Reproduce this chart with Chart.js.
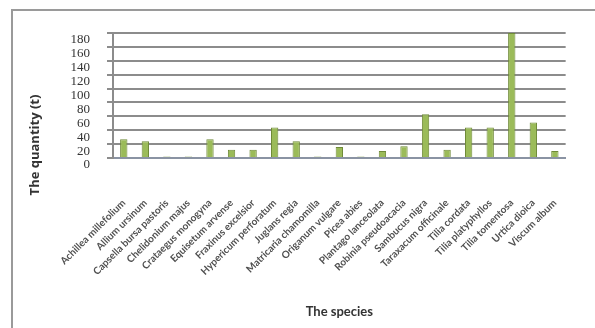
<!DOCTYPE html>
<html>
<head>
<meta charset="utf-8">
<script src="https://cdn.jsdelivr.net/npm/chart.js@4"></script>
<style>
  html, body { margin: 0; padding: 0; background: #ffffff; }
  #wrap { position: relative; width: 595px; height: 328px; }
</style>
</head>
<body>
<div id="wrap"><canvas id="chart" width="595" height="328"></canvas></div>
<script>
// Plant species and harvested quantity (t)
const species = [
  "Achillea millefolium", "Allium ursinum", "Capsella bursa pastoris",
  "Chelidonium majus", "Crataegus monogyna", "Equisetum arvense",
  "Fraxinus excelsior", "Hypericum perforatum", "Juglans regia",
  "Matricaria chamomilla", "Origanum vulgare", "Picea abies",
  "Plantago lanceolata", "Robinia pseudoacacia", "Sambucus nigra",
  "Taraxacum officinale", "Tilia cordata", "Tilia platyphyllos",
  "Tilia tomentosa", "Urtica dioica", "Viscum album"
];
const quantity = [
  27, 24, 2, 2, 27, 12,
  12, 44, 24, 2, 16, 2,
  10, 17, 63, 12, 44, 44,
  180, 51, 10
];
const yTicks = [0, 20, 40, 60, 80, 100, 120, 140, 160, 180];
const yTitle = 'The quantity (t)';

// Outer frame lines (top and left edges of the chart box) and the value-axis title
const framePlugin = {
  id: 'frame',
  beforeDraw(chart) {
    const ctx = chart.ctx;
    ctx.save();
    ctx.strokeStyle = '#9a9a9a';
    ctx.lineWidth = 2;
    ctx.beginPath();
    ctx.moveTo(12, 328);
    ctx.lineTo(12, 10);
    ctx.lineTo(595, 10);
    ctx.stroke();
    ctx.restore();
  },
  afterDraw(chart) {
    const ctx = chart.ctx;
    ctx.save();
    ctx.translate(35, 145);
    ctx.rotate(-Math.PI / 2);
    ctx.fillStyle = '#333333';
    ctx.font = 'bold 13px "Open Sans"';
    ctx.textAlign = 'center';
    ctx.textBaseline = 'middle';
    ctx.fillText(yTitle, 0, 0);
    ctx.restore();
  }
};

new Chart(document.getElementById('chart'), {
  type: 'bar',
  data: {
    labels: species,
    datasets: [{
      data: quantity,
      backgroundColor: '#9bbb59',
      borderColor: '#6f8a38',
      borderWidth: 1,
      barPercentage: 0.34,
      categoryPercentage: 1.0
    }]
  },
  options: {
    responsive: false,
    animation: false,
    layout: { padding: { left: 22, top: 33, right: 27, bottom: 6 } },
    plugins: { legend: { display: false }, tooltip: { enabled: false } },
    scales: {
      x: {
        grid: { display: false },
        border: { color: '#8a93a3', width: 2 },
        ticks: {
          autoSkip: false,
          minRotation: 45,
          maxRotation: 45,
          padding: 31,
          color: '#505050',
          font: { family: 'Lato', size: 10, weight: 'bold' }
        },
        title: {
          display: true,
          text: 'The species',
          color: '#333333',
          padding: { top: 0, bottom: 2 },
          font: { family: 'Lato', size: 13, weight: 'bold' }
        },
        afterFit(scale) { scale.height = 164; }
      },
      y: {
        min: 0,
        max: 180,
        afterBuildTicks(scale) { scale.ticks = yTicks.map(v => ({ value: v })); },
        grid: { color: '#8c8c8c', lineWidth: 2, tickLength: 6, tickColor: '#8c8c8c' },
        border: { color: '#8c8c8c', width: 2 },
        ticks: {
          autoSkip: false,
          padding: 17,
          labelOffset: 7,
          color: '#333333',
          font: { family: 'Liberation Serif', size: 13 }
        },
        afterFit(scale) { scale.width = 91; }
      }
    }
  },
  plugins: [framePlugin]
});
</script>
</body>
</html>
